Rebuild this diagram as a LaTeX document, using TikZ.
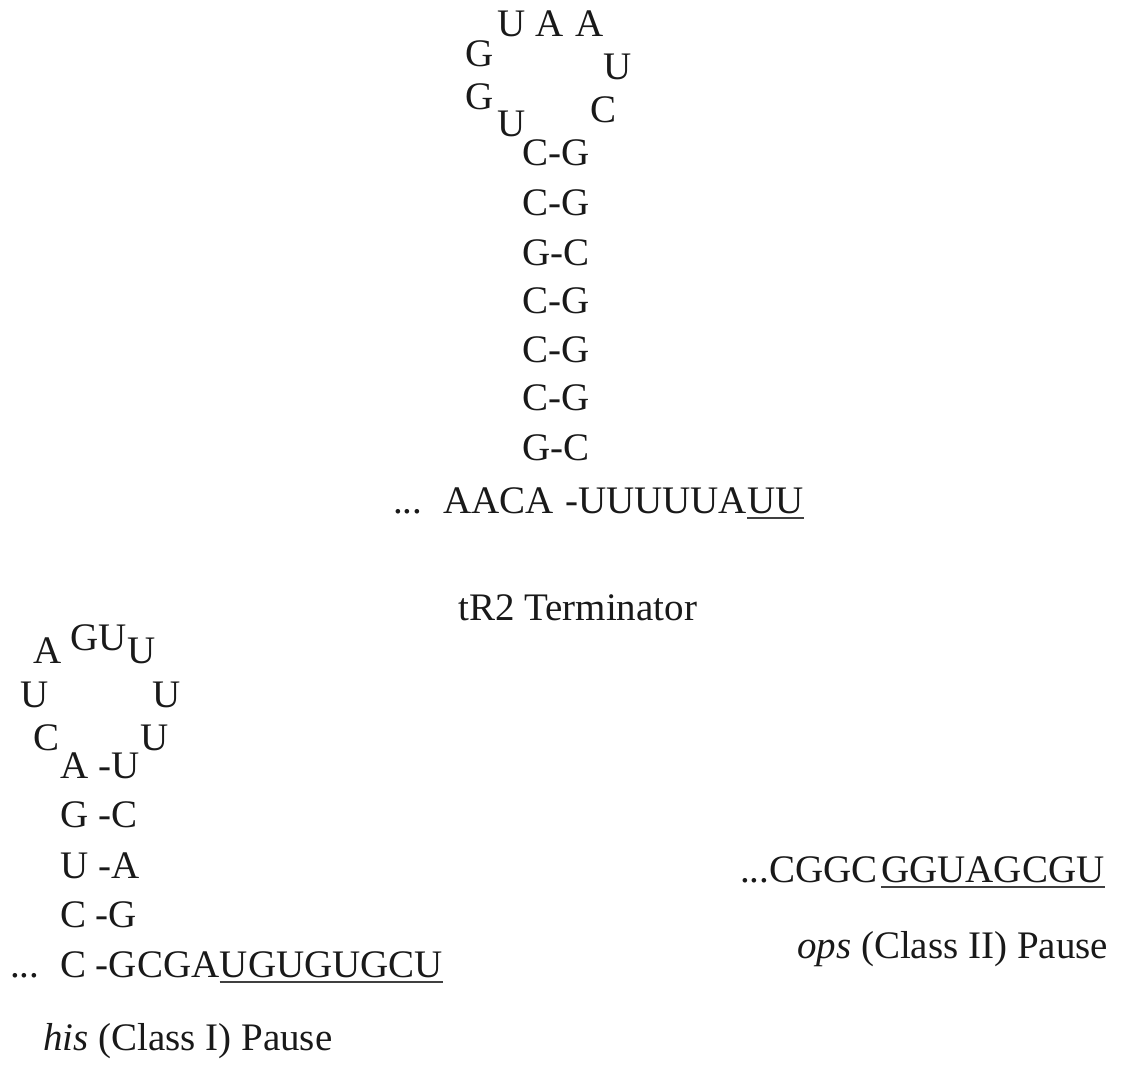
\documentclass[tikz,border=0pt]{standalone}
\usepackage{fontspec}
\setmainfont{Liberation Serif}
\newcommand{\bigfont}{\fontsize{39}{39}\selectfont}
\begin{document}
\begin{tikzpicture}[x=1pt,y=-1pt,
  nt/.style={anchor=base west,inner sep=0pt,font=\bigfont,text=black!90},
  uline/.style={line width=2pt,draw=black!75}]
\useasboundingbox (0,0) rectangle (1125,1070);
% ---- tR2 terminator hairpin ----
\node[nt] (t1) at (497,37) {U};
\node[nt] (t2) at (535,37) {A};
\node[nt] (t3) at (575,37) {A};
\node[nt] (t4) at (465,67) {G};
\node[nt] (t5) at (603,80) {U};
\node[nt] (t6) at (465,110) {G};
\node[nt] (t7) at (590,123) {C};
\node[nt] (t8) at (497,137) {U};
\node[nt] (s1) at (522,165) {C-G};
\node[nt] (s2) at (522,215) {C-G};
\node[nt] (s3) at (522,265) {G-C};
\node[nt] (s4) at (522,313) {C-G};
\node[nt] (s5) at (522,362) {C-G};
\node[nt] (s6) at (522,410) {C-G};
\node[nt] (s7) at (522,460) {G-C};
\node[nt] (b1) at (393,513) {...};
\node[nt] (b2) at (443,513) {AACA};
\node[nt] (b3) at (565,513) {-UUUUUA};
\node[nt] (b4) at (b3.base east) {UU};
\draw[uline] ([yshift=-5pt]b4.base west) -- ([yshift=-5pt]b4.base east);
\node[nt] (tl) at (458,620) {tR2 Terminator};
% ---- his pause hairpin ----
\node[nt] (h1) at (33,663) {A};
\node[nt] (h2) at (70,650) {GU};
\node[nt] (h3) at (127,663) {U};
\node[nt] (h4) at (20,707) {U};
\node[nt] (h5) at (152,707) {U};
\node[nt] (h6) at (33,750) {C};
\node[nt] (h7) at (140,750) {U};
\node[nt] (hs1) at (60,778) {A -U};
\node[nt] (hs2) at (60,827) {G -C};
\node[nt] (hs3) at (60,878) {U -A};
\node[nt] (hs4) at (60,927) {C -G};
\node[nt] (hb1) at (10,977) {...};
\node[nt] (hb2) at (60,977) {C -GCGA};
\node[nt] (hb3) at (hb2.base east) {UGUGUGCU};
\draw[uline] ([yshift=-5pt]hb3.base west) -- ([yshift=-5pt]hb3.base east);
\node[nt] (hl) at (43,1050) {\textit{his} (Class I) Pause};
% ---- ops pause ----
\node[nt] (o1) at (740,882) {...CGGC};
\node[nt] (o2) at ([xshift=3pt]o1.base east) {GGUAGCGU};
\draw[uline] ([yshift=-5pt]o2.base west) -- ([yshift=-5pt]o2.base east);
\node[nt] (ol) at (797,958) {\textit{ops} (Class II) Pause};
\end{tikzpicture}
\end{document}
